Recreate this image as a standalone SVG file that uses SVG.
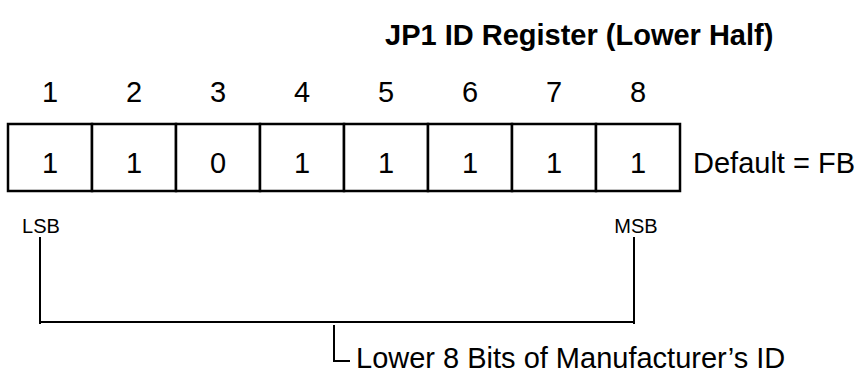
<svg xmlns="http://www.w3.org/2000/svg" width="861" height="377" viewBox="0 0 861 377">
  <style>
    text { font-family: "Liberation Sans", Arial, sans-serif; fill: #000; }
    .title { font-size: 29px; font-weight: bold; }
    .num { font-size: 29px; text-anchor: middle; }
    .lbl { font-size: 29px; }
    .small { font-size: 20px; text-anchor: middle; }
    .cell { fill: #fff; stroke: #000; stroke-width: 2.5; }
    .wire { fill: none; stroke: #000; stroke-width: 2; }
  </style>
  <rect width="861" height="377" fill="#fff"/>

  <g id="title">
    <text class="title" x="385" y="45">JP1 ID Register (Lower Half)</text>
  </g>

  <g id="bit-numbers">
    <text class="num" x="50" y="102">1</text>
    <text class="num" x="134" y="102">2</text>
    <text class="num" x="218" y="102">3</text>
    <text class="num" x="302" y="102">4</text>
    <text class="num" x="386" y="102">5</text>
    <text class="num" x="470" y="102">6</text>
    <text class="num" x="554" y="102">7</text>
    <text class="num" x="638" y="102">8</text>
  </g>

  <g id="register">
    <rect class="cell" x="8" y="124" width="84" height="67"/>
    <rect class="cell" x="92" y="124" width="84" height="67"/>
    <rect class="cell" x="176" y="124" width="84" height="67"/>
    <rect class="cell" x="260" y="124" width="84" height="67"/>
    <rect class="cell" x="344" y="124" width="84" height="67"/>
    <rect class="cell" x="428" y="124" width="84" height="67"/>
    <rect class="cell" x="512" y="124" width="84" height="67"/>
    <rect class="cell" x="596" y="124" width="84" height="67"/>
    <text class="num" x="50" y="173">1</text>
    <text class="num" x="134" y="173">1</text>
    <text class="num" x="218" y="173">0</text>
    <text class="num" x="302" y="173">1</text>
    <text class="num" x="386" y="173">1</text>
    <text class="num" x="470" y="173">1</text>
    <text class="num" x="554" y="173">1</text>
    <text class="num" x="638" y="173">1</text>
  </g>

  <g id="default-value">
    <text class="lbl" x="693" y="173">Default = FB</text>
  </g>

  <g id="lsb">
    <text class="small" x="41" y="233">LSB</text>
  </g>
  <g id="msb">
    <text class="small" x="636" y="233">MSB</text>
  </g>

  <g id="connectors">
    <path class="wire" d="M40,237 V324 M634,237 V324 M40,322 H634"/>
    <path class="wire" d="M334,325 V361 H350"/>
  </g>

  <g id="manufacturer-id">
    <text class="lbl" x="356" y="368">Lower 8 Bits of Manufacturer’s ID</text>
  </g>
</svg>
